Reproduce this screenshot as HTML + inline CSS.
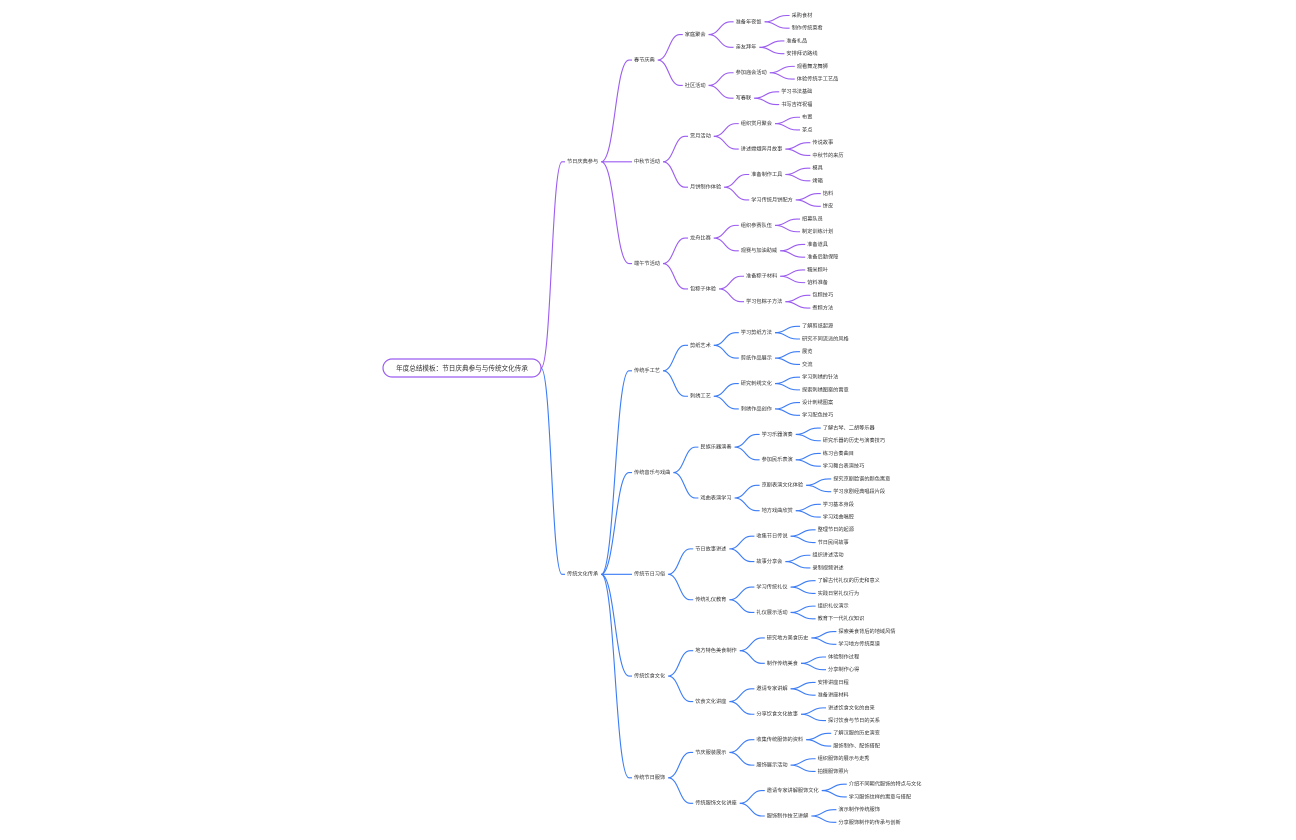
<!DOCTYPE html>
<html><head><meta charset="utf-8">
<style>
html,body{margin:0;padding:0;background:#fff;}
svg{display:block;}
text{font-family:"Liberation Sans","Noto Sans CJK SC",sans-serif;fill:#333;}
</style></head>
<body>
<svg id="m" width="1296" height="840" viewBox="0 0 1296 840" xmlns="http://www.w3.org/2000/svg">
<rect x="383" y="359" width="158" height="18" rx="9" fill="#fff" stroke="#9b5cf0" stroke-width="1.2"/>
<text x="462" y="370.5" font-size="6.6" text-anchor="middle">年度总结模板：节日庆典参与与传统文化传承</text>
</svg>
<script>
var FS=5.2,CW=5.2;
var data=[
 {t:"节日庆典参与",c:"#9b5cf0",k:[
  {t:"春节庆典",k:[
   {t:"家庭聚会",k:[{t:"准备年夜饭",k:["采购食材","制作传统菜肴"]},{t:"亲友拜年",k:["准备礼品","安排拜访路线"]}]},
   {t:"社区活动",k:[{t:"参加庙会活动",k:["观看舞龙舞狮","体验传统手工艺品"]},{t:"写春联",k:["学习书法基础","书写吉祥祝福"]}]}]},
  {t:"中秋节活动",k:[
   {t:"赏月活动",k:[{t:"组织赏月聚会",k:["布置","茶点"]},{t:"讲述嫦娥奔月故事",k:["传说故事","中秋节的来历"]}]},
   {t:"月饼制作体验",k:[{t:"准备制作工具",k:["模具","烤箱"]},{t:"学习传统月饼配方",k:["馅料","饼皮"]}]}]},
  {t:"端午节活动",k:[
   {t:"龙舟比赛",k:[{t:"组织参赛队伍",k:["招募队员","制定训练计划"]},{t:"观赛与加油助威",k:["准备道具","准备后勤保障"]}]},
   {t:"包粽子体验",k:[{t:"准备粽子材料",k:["糯米粽叶","馅料准备"]},{t:"学习包粽子方法",k:["包粽技巧","煮粽方法"]}]}]}
 ]},
 {t:"传统文化传承",c:"#3b7cf5",k:[
  {t:"传统手工艺",k:[
   {t:"剪纸艺术",k:[{t:"学习剪纸方法",k:["了解剪纸起源","研究不同流派的风格"]},{t:"剪纸作品展示",k:["展览","交流"]}]},
   {t:"刺绣工艺",k:[{t:"研究刺绣文化",k:["学习刺绣的针法","探索刺绣图案的寓意"]},{t:"刺绣作品创作",k:["设计刺绣图案","学习配色技巧"]}]}]},
  {t:"传统音乐与戏曲",k:[
   {t:"民族乐器演奏",k:[{t:"学习乐器演奏",k:["了解古琴、二胡等乐器","研究乐器的历史与演奏技巧"]},{t:"参加民乐表演",k:["练习合奏曲目","学习舞台表演技巧"]}]},
   {t:"戏曲表演学习",k:[{t:"京剧表演文化体验",k:["探究京剧脸谱的颜色寓意","学习京剧经典唱段片段"]},{t:"地方戏曲欣赏",k:["学习基本身段","学习戏曲唱腔"]}]}]},
  {t:"传统节日习俗",k:[
   {t:"节日故事讲述",k:[{t:"收集节日传说",k:["整理节日的起源","节日民间故事"]},{t:"故事分享会",k:["组织讲述活动","录制视频讲述"]}]},
   {t:"传统礼仪教育",k:[{t:"学习传统礼仪",k:["了解古代礼仪的历史和意义","实践日常礼仪行为"]},{t:"礼仪展示活动",k:["组织礼仪演示","教育下一代礼仪知识"]}]}]},
  {t:"传统饮食文化",k:[
   {t:"地方特色美食制作",k:[{t:"研究地方美食历史",k:["探索美食背后的地域风情","学习地方传统菜谱"]},{t:"制作传统美食",k:["体验制作过程","分享制作心得"]}]},
   {t:"饮食文化讲座",k:[{t:"邀请专家讲解",k:["安排讲座日程","准备讲座材料"]},{t:"分享饮食文化故事",k:["讲述饮食文化的由来","探讨饮食与节日的关系"]}]}]},
  {t:"传统节日服饰",k:[
   {t:"节庆服装展示",k:[{t:"收集传统服饰的资料",k:["了解汉服的历史演变","服饰制作、配饰搭配"]},{t:"服饰展示活动",k:["组织服饰的展示与走秀","拍摄服饰照片"]}]},
   {t:"传统服饰文化讲座",k:[{t:"邀请专家讲解服饰文化",k:["介绍不同朝代服饰的特点与文化","学习服饰纹样的寓意与搭配"]},{t:"服饰制作技艺讲解",k:["演示制作传统服饰","分享服饰制作的传承与创新"]}]}]}
 ]}
];
var svg=document.getElementById('m'),NS="http://www.w3.org/2000/svg";
function w(s){return s.length*CW;}
function line(x1,y1,x2,y2,c){var p=document.createElementNS(NS,'path');var mx=(x1+x2)/2;
 p.setAttribute('d','M'+x1+' '+y1+' C'+mx+' '+y1+' '+mx+' '+y2+' '+x2+' '+y2+' L'+(x2+3)+' '+y2);
 p.setAttribute('fill','none');p.setAttribute('stroke',c);p.setAttribute('stroke-width','1.1');svg.insertBefore(p,svg.firstChild);}
function txt(x,y,s){var t=document.createElementNS(NS,'text');t.setAttribute('x',x);t.setAttribute('y',y+1.9);t.setAttribute('font-size',FS);t.textContent=s;svg.appendChild(t);}
var li=0;
function leafY(){var y=15+li*12.72+(li>=24?5.5:0);li++;return y;}
function lay(n,x,c){
 if(typeof n==='string'){var y=leafY();txt(x,y,n);return {y:y};}
 var cx=x+w(n.t)+30;
 var kids=n.k.map(function(k){return lay(k,cx,c);});
 var y=(kids[0].y+kids[kids.length-1].y)/2;
 txt(x,y,n.t);
 kids.forEach(function(k){line(x+w(n.t)+3,y+0.5,cx-5,k.y+0.5,c);});
 return {y:y};
}
data.forEach(function(m){
 var x=567, cx=634;
 var kids=m.k.map(function(k){return lay(k,cx,m.c);});
 var y=(kids[0].y+kids[kids.length-1].y)/2;
 txt(x,y,m.t);
 kids.forEach(function(k){line(x+w(m.t)+3,y+0.5,cx-5,k.y+0.5,m.c);});
 line(541,368,x-5,y+0.5,m.c);
});
</script>
</body></html>
